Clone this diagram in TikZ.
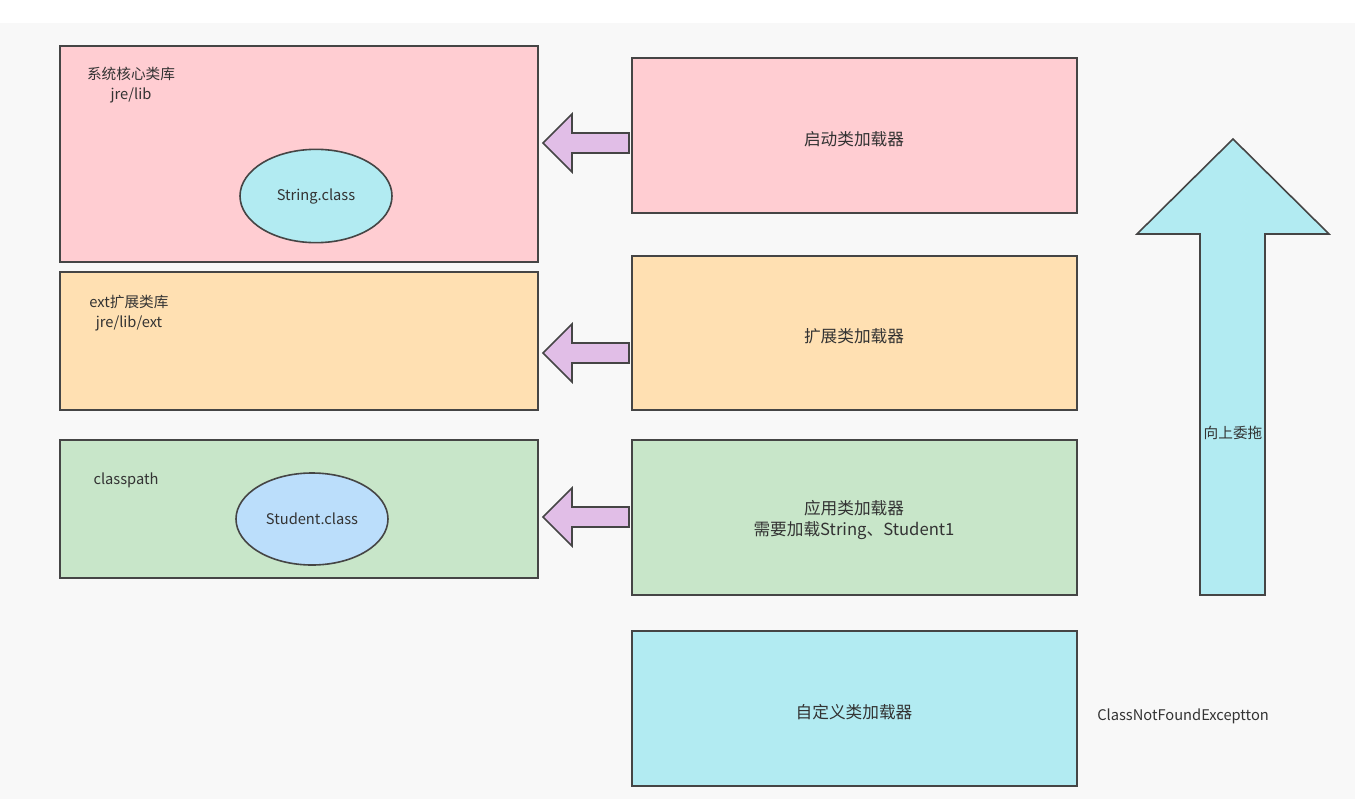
\documentclass[tikz,border=0pt]{standalone}
\usepackage{fontspec}
\newfontfamily\cjk{Noto Sans CJK SC}
\usetikzlibrary{shapes.geometric,fit}
\definecolor{bgc}{HTML}{F8F8F8}
\definecolor{linec}{HTML}{454545}
\definecolor{txtc}{HTML}{333333}
\definecolor{pinkc}{HTML}{FFCDD2}
\definecolor{orangec}{HTML}{FFE0B2}
\definecolor{greenc}{HTML}{C8E6C9}
\definecolor{cyanc}{HTML}{B2EBF2}
\definecolor{bluec}{HTML}{BBDEFB}
\definecolor{purplec}{HTML}{E1BEE7}
\tikzset{
  every node/.style={text=txtc},
  box/.style={draw=linec, line width=1.3pt, inner sep=0pt, rectangle},
  ell/.style={draw=linec, line width=1.2pt, ellipse, inner sep=0pt, font=\cjk\fontsize{11}{13}\selectfont},
  lbl/.style={align=center, inner sep=0pt, font=\cjk\fontsize{11}{15}\selectfont},
  big/.style={align=center, inner sep=0pt, font=\cjk\fontsize{12.5}{16}\selectfont},
  blockarrow/.style={draw=linec, line width=1.2pt, line join=miter}
}
\begin{document}
\begin{tikzpicture}[x=0.75pt,y=-0.75pt]
\useasboundingbox (0,0) rectangle (1355,799);
\fill[white] (0,0) rectangle (1355,799);
\fill[bgc] (0,23) rectangle (1355,799);

% left library boxes
\node[box, fill=pinkc, fit={(60,46) (538,262)}] (core) {};
\node[box, fill=orangec, fit={(60,272) (538,410)}] (ext) {};
\node[box, fill=greenc, fit={(60,440) (538,578)}] (cp) {};

\node[lbl] (corelbl) at (131,85) {系统核心类库\\jre/lib};
\node[lbl] (extlbl) at (129,313) {ext扩展类库\\jre/lib/ext};
\node[lbl] (cplbl) at (126,480) {classpath};

\node[ell, fill=cyanc, minimum width=114pt, minimum height=70pt] (str) at (316,196) {String.class};
\node[ell, fill=bluec, minimum width=114pt, minimum height=69pt] (stu) at (312,519) {Student.class};

% right loader boxes
\node[box, fill=pinkc, fit={(632,58) (1077,213)}] (boot) {};
\node[box, fill=orangec, fit={(632,256) (1077,410)}] (extl) {};
\node[box, fill=greenc, fit={(632,440) (1077,595)}] (app) {};
\node[box, fill=cyanc, fit={(632,631) (1077,786)}] (cust) {};

\node[big] (boottxt) at (854,139) {启动类加载器};
\node[big] (extltxt) at (854,336) {扩展类加载器};
\node[big] (apptxt) at (854,520) {应用类加载器\\需要加载String、Student1};
\node[big] (custtxt) at (854,712) {自定义类加载器};

% purple block arrows
\foreach \c in {143,353,517}{
  \draw[blockarrow, fill=purplec] (543,\c) -- (572,\c-29) -- (572,\c-10) -- (629,\c-10) -- (629,\c+10) -- (572,\c+10) -- (572,\c+29) -- cycle;
}

% big up arrow
\draw[blockarrow, fill=cyanc] (1233,139) -- (1329,234) -- (1265,234) -- (1265,595) -- (1200,595) -- (1200,234) -- (1137,234) -- cycle;
\node[lbl] (up) at (1233,433) {向上委拖};

\node[lbl, anchor=west] (cnf) at (1097,716) {ClassNotFoundExceptton};
\end{tikzpicture}
\end{document}
